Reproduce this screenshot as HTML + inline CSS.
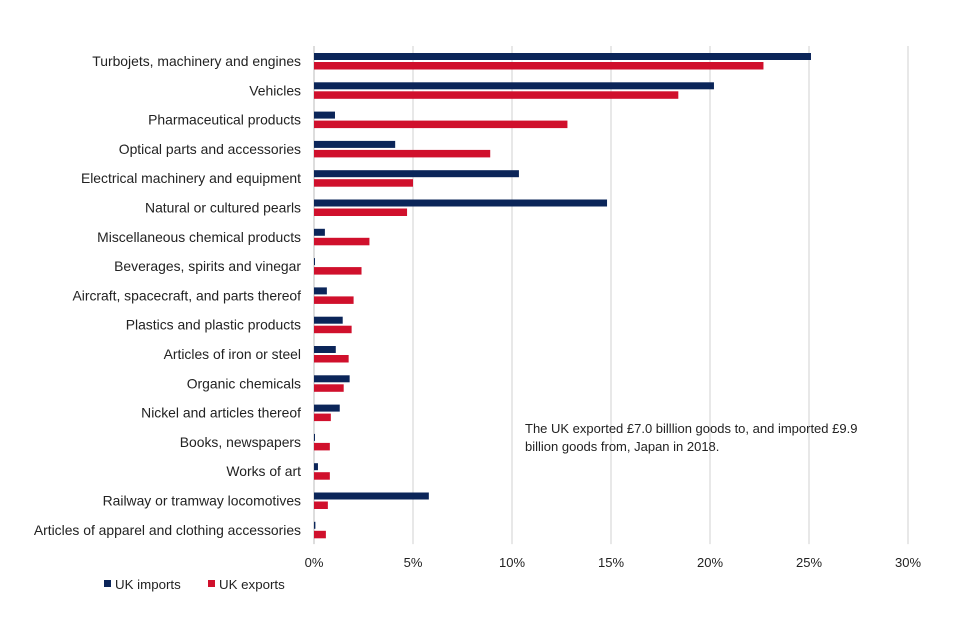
<!DOCTYPE html>
<html><head><meta charset="utf-8"><style>
body{margin:0;background:#fff;font-family:"Liberation Sans",sans-serif;}
</style></head><body>
<svg id="c" width="960" height="640" style="display:block"></svg>
<script>
const categories=["Turbojets, machinery and engines","Vehicles","Pharmaceutical products","Optical parts and accessories","Electrical machinery and equipment","Natural or cultured pearls","Miscellaneous chemical products","Beverages, spirits and vinegar","Aircraft, spacecraft, and parts thereof","Plastics and plastic products","Articles of iron or steel","Organic chemicals","Nickel and articles thereof","Books, newspapers","Works of art","Railway or tramway locomotives","Articles of apparel and clothing accessories"];
const importsVals=[25.1,20.2,1.06,4.1,10.35,14.8,0.55,0.05,0.65,1.45,1.1,1.8,1.3,0.05,0.2,5.8,0.07];
const exportsVals=[22.7,18.4,12.8,8.9,5.0,4.7,2.8,2.4,2.0,1.9,1.75,1.5,0.85,0.8,0.8,0.7,0.6];
const tickVals=[0,5,10,15,20,25,30];
const tickLabels=["0%","5%","10%","15%","20%","25%","30%"];
const NS="http://www.w3.org/2000/svg",svg=document.getElementById('c');
const x0=314,pxPer=19.8,plotTop=46,band=29.3;
const xs=v=>x0+v*pxPer;
function mk(t,a,p){const e=document.createElementNS(NS,t);for(const k in a)e.setAttribute(k,a[k]);(p||svg).appendChild(e);return e;}
tickVals.forEach((v,i)=>{
 const g=mk('line',{x1:xs(v),x2:xs(v),y1:plotTop,y2:plotTop+band*categories.length,stroke:i==0?'#bbb':'#d0d0d0','stroke-width':1});
 
 
 const t=mk('text',{x:xs(v),y:567,'text-anchor':'middle','font-size':13,fill:'#222'});
 t.textContent=tickLabels[i];
 
 
});
categories.forEach((c,i)=>{
 const yc=plotTop+band*i+15;
 const t=mk('text',{x:301,y:yc+5,'text-anchor':'end','font-size':13.9,fill:'#222'});
 t.textContent=c;
 
 
 const b1=mk('rect',{x:x0,y:yc-8,width:importsVals[i]*pxPer,height:7,fill:'#0b2559'});
 
 
 const b2=mk('rect',{x:x0,y:yc+1,width:exportsVals[i]*pxPer,height:7.5,fill:'#d0102c'});
 
 
});
const legend=[["UK imports","#0b2559",104],["UK exports","#d0102c",208]];
legend.forEach(l=>{
 const r=mk('rect',{x:l[2],y:580,width:7,height:7,fill:l[1]});
 
 
 const t=mk('text',{x:l[2]+11,y:589,'font-size':13.3,fill:'#222'});
 t.textContent=l[0];
 
 
});
["The UK exported £7.0 billlion goods to, and imported £9.9","billion goods from, Japan in 2018."].forEach((s,i)=>{
 const t=mk('text',{x:525,y:433+i*18,'font-size':13,fill:'#222'});
 t.textContent=s;
 
 
});
</script>
</body></html>
